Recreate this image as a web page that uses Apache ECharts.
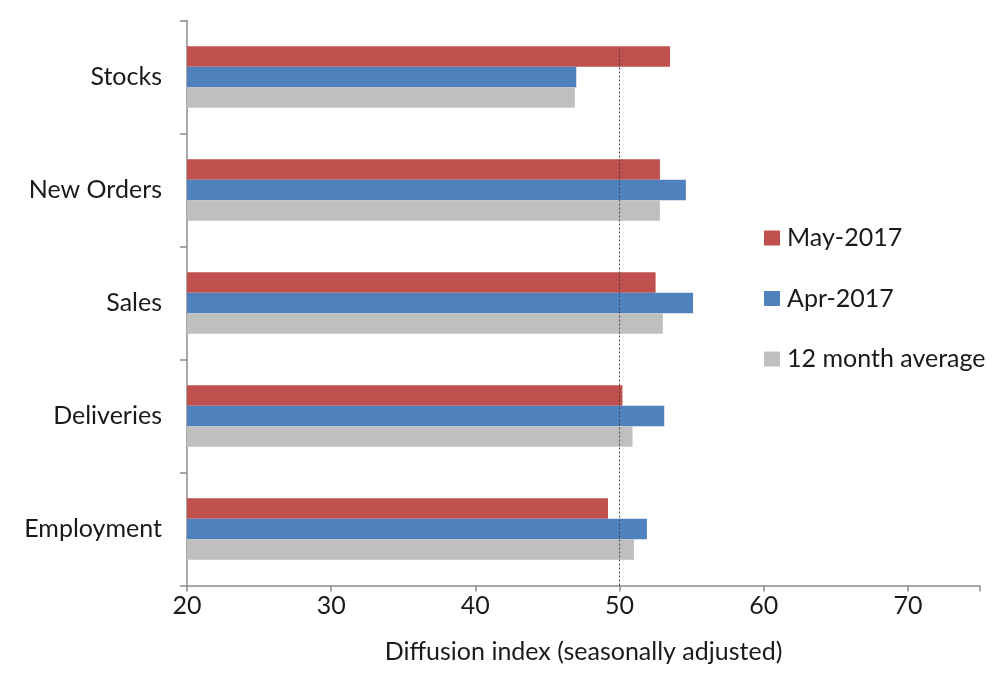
<!DOCTYPE html>
<html>
<head>
<meta charset="utf-8">
<script src="https://cdn.jsdelivr.net/npm/echarts@6/dist/echarts.min.js"></script>
<style>
html,body{margin:0;padding:0;background:#fff;}
#chart{width:1003px;height:687px;}
</style>
</head>
<body>
<div id="chart"></div>
<script>
var categories = ['Stocks', 'New Orders', 'Sales', 'Deliveries', 'Employment'];
var may2017 = [53.5, 52.8, 52.5, 50.2, 49.2];
var apr2017 = [47.0, 54.6, 55.1, 53.1, 51.9];
var avg12 = [46.9, 52.8, 53.0, 50.9, 51.0];
var seriesNames = ['May-2017', 'Apr-2017', '12 month average'];
var xTicks = {min: 20, max: 75, interval: 10};
var refValue = 50;
var refLineExtent = [0, 0.951];

var FONT = 'Lato';
var chart = echarts.init(document.getElementById('chart'));
chart.setOption({
  animation: false,
  textStyle: {fontFamily: FONT},
  grid: {left: 187, right: 23, top: 20.5, bottom: 101.5, containLabel: false},
  legend: {
    orient: 'vertical',
    left: 759,
    top: 220.5,
    itemWidth: 16,
    itemHeight: 15,
    itemGap: 35.5,
    icon: 'rect',
    textStyle: {fontFamily: FONT, fontSize: 25, color: '#1a1a1a', padding: [0, 0, 0, 2]},
    data: seriesNames
  },
  xAxis: {
    type: 'value',
    min: xTicks.min,
    max: xTicks.max,
    interval: xTicks.interval,
    splitLine: {show: false},
    axisLine: {show: true, lineStyle: {color: '#8c8c8c', width: 1.5}},
    axisTick: {show: true, length: 6, lineStyle: {color: '#8c8c8c', width: 1.5}},
    axisLabel: {fontFamily: FONT, fontSize: 25, color: '#1a1a1a', margin: 8,
      formatter: function (v) { return v > 70 ? '' : v; }},
    name: 'Diffusion index (seasonally adjusted)',
    nameLocation: 'middle',
    nameGap: 54,
    nameTextStyle: {fontFamily: FONT, fontSize: 25, color: '#1a1a1a'}
  },
  yAxis: [{
    type: 'category',
    inverse: true,
    data: categories,
    axisLine: {show: true, lineStyle: {color: '#8c8c8c', width: 1.5}},
    axisTick: {show: true, length: 7, lineStyle: {color: '#8c8c8c', width: 1.5}},
    axisLabel: {fontFamily: FONT, fontSize: 25, color: '#1a1a1a', margin: 25}
  }, {
    type: 'value',
    min: 0,
    max: 1,
    show: false
  }],
  series: [
    {name: seriesNames[0], type: 'bar', data: may2017, barWidth: 20.5, barGap: '0%',
      itemStyle: {color: '#C0504D'}},
    {name: seriesNames[1], type: 'bar', data: apr2017, barWidth: 20.5, barGap: '0%',
      itemStyle: {color: '#4F81BD'}},
    {name: seriesNames[2], type: 'bar', data: avg12, barWidth: 20.5, barGap: '0%',
      itemStyle: {color: '#BFBFBF'}},
    {name: 'ref', type: 'line', yAxisIndex: 1, silent: true, symbol: 'none', z: 5,
      data: [[refValue, refLineExtent[0]], [refValue, refLineExtent[1]]],
      lineStyle: {color: '#444', type: [2, 2], width: 1}}
  ]
});
</script>
</body>
</html>
